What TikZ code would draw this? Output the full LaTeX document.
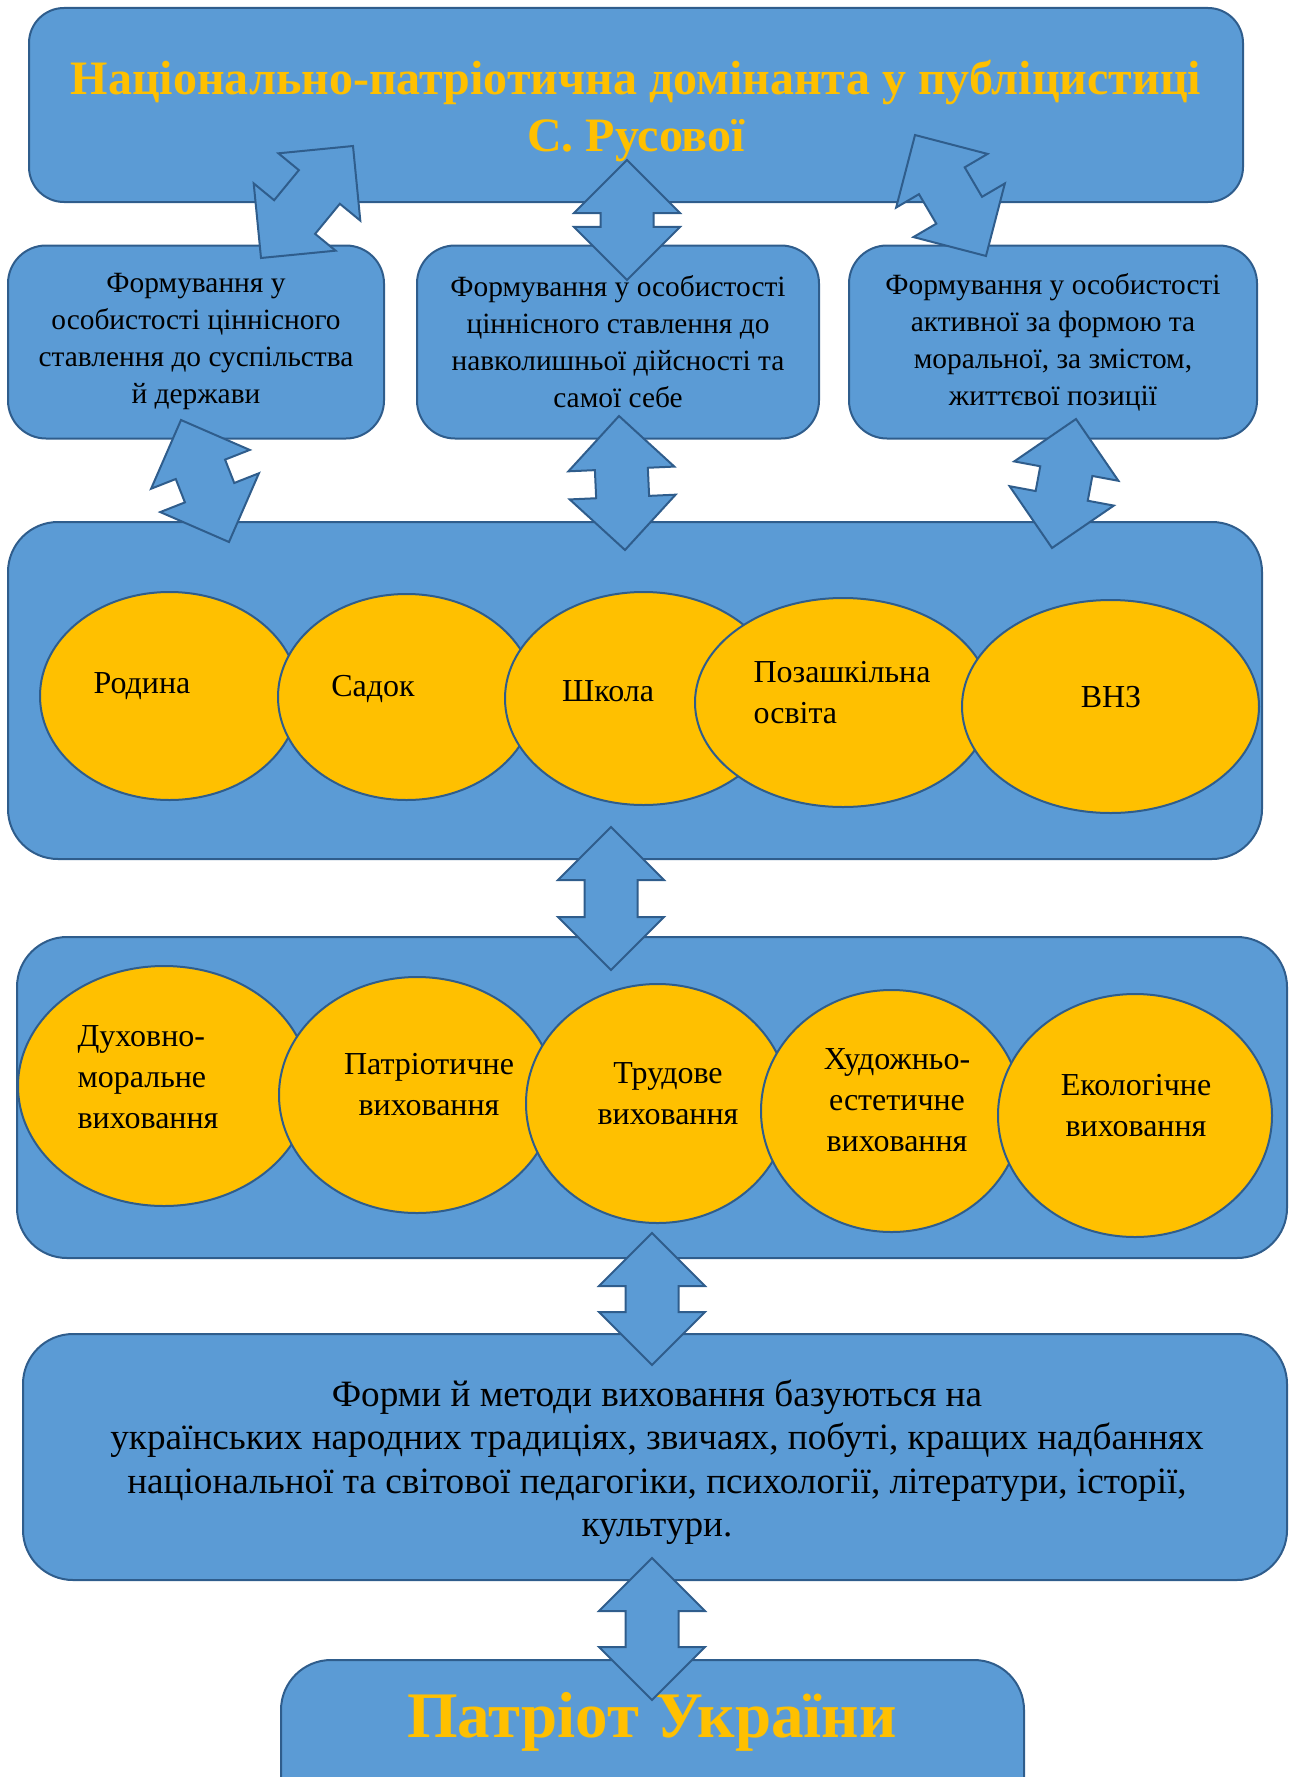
\documentclass[tikz,border=0pt]{standalone}
\usepackage{fontspec}
\setmainfont{Liberation Serif}
\usetikzlibrary{calc,shapes.geometric,shapes.arrows}

\definecolor{boxblue}{HTML}{5B9BD5}
\definecolor{edgeblue}{HTML}{2F5D8C}
\definecolor{gold}{HTML}{FFC000}

\tikzset{
  panel/.style={draw=edgeblue, fill=boxblue, line width=1pt, inner sep=0pt, align=center},
  oval/.style={ellipse, draw=edgeblue, fill=gold, line width=1pt, inner sep=0pt},
  otext/.style={font=\fontsize{16}{20.5}\selectfont, inner sep=0pt, align=center},
  dblarr/.style={double arrow, draw=edgeblue, fill=boxblue, line width=1pt,
    inner xsep=0pt, inner ysep=12.75pt,
    minimum width=52pt, double arrow head extend=13.25pt, double arrow tip angle=90},
}

% block arrow from tip to tip
\newcommand{\twowayarrow}[3]{%
  \path let \p1=($(#3)-(#2)$), \n1={atan2(\y1,\x1)}, \n2={veclen(\x1,\y1)} in
    node[dblarr, rotate=\n1, minimum height=\n2] (#1) at ($(#2)!0.5!(#3)$) {};}

\begin{document}
\begin{tikzpicture}[x=0.5pt, y=-0.5pt]
\clip (0,0) rectangle (1295,1777);

% top
\node[panel, rounded corners=17.5pt, minimum width=607pt, minimum height=97pt] (dominanta) at (636,105) {};
\node[text=gold, font=\fontsize{24}{28.5}\selectfont\bfseries, align=center] (dominanta-t) at (636,111)
  {Національно-патріотична домінанта у публіцистиці\\С. Русової};

% three aims
\tikzset{aim/.style={panel, rounded corners=19pt, minimum height=96.5pt,
  font=\fontsize{14.7}{18.5}\selectfont}}
\node[aim, minimum width=188pt] (society) at (196,342)
  {Формування у\\особистості ціннісного\\ставлення до суспільства\\й держави};
\node[aim, minimum width=201pt] (reality) at (618,342)
  {Формування у особистості\\ціннісного ставлення до\\навколишньої дійсності та\\самої себе};
\node[aim, minimum width=204pt] (position) at (1053,342)
  {Формування у особистості\\активної за формою та\\моральної, за змістом,\\життєвої позиції};

% institutions
\node[panel, rounded corners=25pt, minimum width=627pt, minimum height=168.5pt] (institutions) at (635,690.5) {};
\node[oval, minimum width=129.5pt, minimum height=104pt] (rodyna) at (169.5,696) {};
\node[oval, minimum width=128.5pt, minimum height=103pt] (sadok) at (406.5,697) {};
\node[oval, minimum width=138.5pt, minimum height=106.5pt] (shkola) at (643.5,698.5) {};
\node[oval, minimum width=148pt, minimum height=104.5pt] (pozashk) at (843,702.5) {};
\node[oval, minimum width=148.5pt, minimum height=106.5pt] (vnz) at (1110.5,706.5) {};
\node[otext] (rodyna-t) at (142,686) {Родина};
\node[otext] (sadok-t) at (373,689) {Садок};
\node[otext] (shkola-t) at (608,691) {Школа};
\node[otext, align=left] (pozashk-t) at (842,693) {Позашкільна\\освіта};
\node[otext] (vnz-t) at (1111,697) {ВНЗ};

% kinds of upbringing
\node[panel, rounded corners=25pt, minimum width=635pt, minimum height=160.5pt] (kinds) at (652,1097.5) {};
\node[oval, minimum width=146pt, minimum height=120pt] (dukh) at (164,1086) {};
\node[oval, minimum width=138pt, minimum height=118pt] (patr) at (417,1095) {};
\node[oval, minimum width=131.5pt, minimum height=119.5pt] (trud) at (657.5,1103.5) {};
\node[oval, minimum width=130.5pt, minimum height=121pt] (khud) at (891.5,1111) {};
\node[oval, minimum width=137pt, minimum height=121.5pt] (ekol) at (1135,1115.5) {};
\node[otext, align=left] (dukh-t) at (148,1077) {Духовно-\\моральне\\виховання};
\node[otext] (patr-t) at (429,1085) {Патріотичне\\виховання};
\node[otext] (trud-t) at (668,1094) {Трудове\\виховання};
\node[otext] (khud-t) at (897,1100) {Художньо-\\естетичне\\виховання};
\node[otext] (ekol-t) at (1136,1106) {Екологічне\\виховання};

% forms and methods
\node[panel, rounded corners=25pt, minimum width=632pt, minimum height=123pt] (methods) at (655,1457) {};
\node[font=\fontsize{18.6}{21.7}\selectfont, align=center] (methods-t) at (657,1462)
  {Форми й методи виховання базуються на\\українських народних традиціях, звичаях, побуті, кращих надбаннях\\національної та світової педагогіки, психології, літератури, історії,\\культури.};

% result
\node[panel, rounded corners=25pt, minimum width=371.5pt, minimum height=100pt] (patriot) at (652.5,1760) {};
\node[text=gold, font=\fontsize{32.5}{38}\selectfont\bfseries, inner sep=0pt] (patriot-t) at (652,1722) {Патріот України};

% arrows
\coordinate (a1s) at (261,258);  \coordinate (a1e) at (353,146);
\coordinate (a2s) at (627,280);  \coordinate (a2e) at (627,160);
\coordinate (a3s) at (986,256);  \coordinate (a3e) at (915,135);
\coordinate (a4s) at (229,542);  \coordinate (a4e) at (181,420);
\coordinate (a5s) at (625,550);  \coordinate (a5e) at (619,416);
\coordinate (a6s) at (1052,548); \coordinate (a6e) at (1076,419);
\coordinate (a7s) at (611,970);  \coordinate (a7e) at (611,827);
\coordinate (a8s) at (652,1365); \coordinate (a8e) at (652,1233);
\coordinate (a9s) at (652,1700); \coordinate (a9e) at (652,1558);
\foreach \i in {1,...,9} {\twowayarrow{arr\i}{a\i s}{a\i e}}
\end{tikzpicture}
\end{document}
